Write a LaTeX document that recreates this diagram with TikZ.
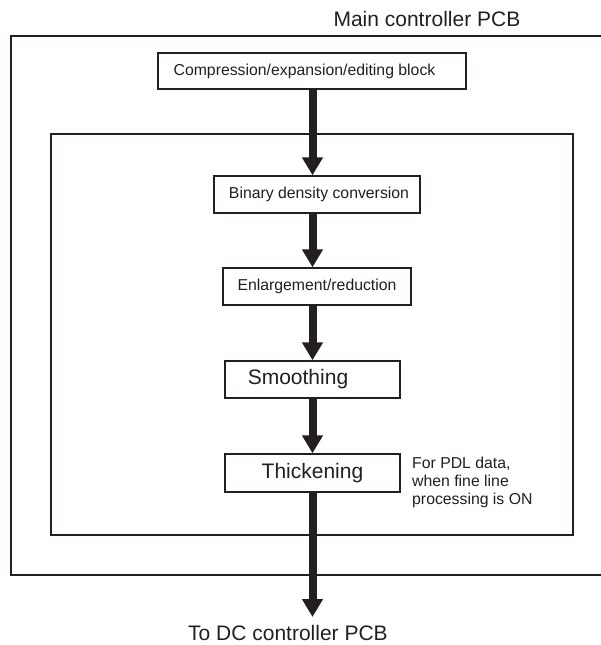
\documentclass[tikz,border=0pt]{standalone}
\usepackage{fontspec}
\setmainfont{Liberation Sans}
\usetikzlibrary{arrows.meta}
\definecolor{ink}{HTML}{231F20}
\begin{document}
\begin{tikzpicture}[x=1pt,y=-1pt,
  box/.style={draw=ink,line width=1.4pt,rectangle,inner sep=0pt,fill=white,text=ink,
    font=\fontsize{15.8}{18}\selectfont},
  bigbox/.style={box,font=\fontsize{21}{24}\selectfont},
  frame/.style={draw=ink,line width=1.6pt},
  bigarrow/.style={draw=ink,line width=8pt,-{Triangle[width=20pt,length=18pt]}},
  lbl/.style={text=ink,inner sep=0pt}]
\useasboundingbox (0,0) rectangle (601,645);
\fill[white] (0,0) rectangle (601,645);
% outer frame (open at the right)
\draw[frame] (601,36) -- (11,36) -- (11,575) -- (601,575);
% inner frame
\draw[frame] (51,134) rectangle (573,535);
\node[lbl,anchor=base east,font=\fontsize{21}{24}\selectfont] (title) at (520.5,27) {Main controller PCB};
% boxes
\node[box,minimum width=308pt,minimum height=36pt] (comp) at (312,71) {\hspace*{-15pt}Compression/expansion/editing block};
\node[box,minimum width=206pt,minimum height=37pt] (bin) at (317,194.5) {\hspace*{4pt}Binary density conversion};
\node[box,minimum width=188pt,minimum height=37pt] (enl) at (317,286.5) {Enlargement/reduction};
\node[bigbox,minimum width=175pt,minimum height=37pt] (smo) at (312.5,379.5) {Smoothing\hspace*{29pt}};
\node[bigbox,minimum width=175pt,minimum height=38pt] (thk) at (312.5,473) {Thickening};
\node[lbl,anchor=north west,align=left,font=\fontsize{15.8}{18.2}\selectfont] (note) at (412,456.5) {For PDL data,\\when fine line\\processing is ON};
\node[lbl,anchor=base,font=\fontsize{21}{24}\selectfont] (dc) at (288,640) {To DC controller PCB};
\coordinate (ax) at (312.5,0);
\coordinate (tip) at (312.5,617);
% arrows
\draw[bigarrow] (ax |- comp.south) -- (ax |- bin.north);
\draw[bigarrow] (ax |- bin.south) -- (ax |- enl.north);
\draw[bigarrow] (ax |- enl.south) -- (ax |- smo.north);
\draw[bigarrow] (ax |- smo.south) -- (ax |- thk.north);
\draw[bigarrow] (ax |- thk.south) -- (tip);
\end{tikzpicture}
\end{document}
